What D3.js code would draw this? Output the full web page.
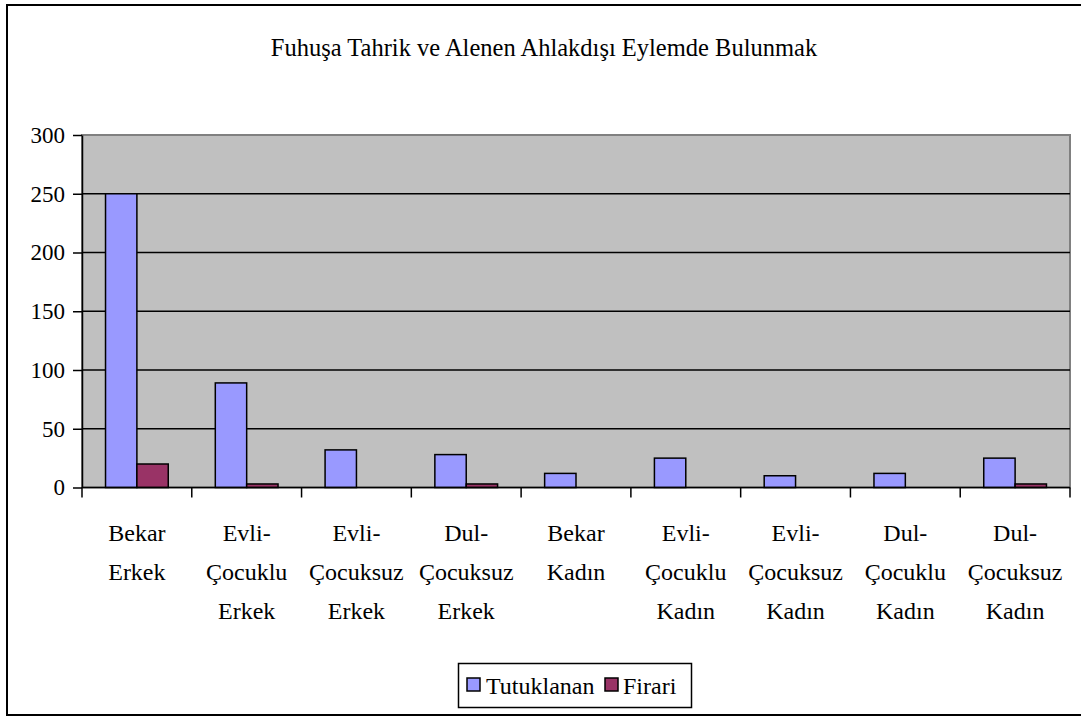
<!DOCTYPE html>
<html>
<head>
<meta charset="utf-8">
<script src="https://cdn.jsdelivr.net/npm/d3@7"></script>
<style>
  html, body { margin: 0; padding: 0; background: #fff; }
  svg { display: block; }
  svg text { font-family: "Liberation Serif", "Times New Roman", Times, "DejaVu Serif", serif !important; }
</style>
</head>
<body>
<svg id="chart" width="1081" height="717"></svg>
<script>
const title = "Fuhuşa Tahrik ve Alenen Ahlakdışı Eylemde Bulunmak";
const categories = [
  ["Bekar", "Erkek"],
  ["Evli-", "Çocuklu", "Erkek"],
  ["Evli-", "Çocuksuz", "Erkek"],
  ["Dul-", "Çocuksuz", "Erkek"],
  ["Bekar", "Kadın"],
  ["Evli-", "Çocuklu", "Kadın"],
  ["Evli-", "Çocuksuz", "Kadın"],
  ["Dul-", "Çocuklu", "Kadın"],
  ["Dul-", "Çocuksuz", "Kadın"]
];
const seriesNames = ["Tutuklanan", "Firari"];
const tutuklanan = [250, 89, 32, 28, 12, 25, 10, 12, 25];
const firari = [20, 3, 0, 3, 0, 0, 0, 0, 3];
const yTicks = [0, 50, 100, 150, 200, 250, 300];
const colors = ["#9999FF", "#993366"];

const FONT = '"Liberation Serif", "Times New Roman", Times, "DejaVu Serif", serif';
const svg = d3.select("#chart");
const plot = { left: 82, right: 1070, top: 135, bottom: 487.5 };

// outer border
svg.append("rect")
  .attr("x", 7).attr("y", 5).attr("width", 1090).attr("height", 710)
  .attr("fill", "#fff").attr("stroke", "#000").attr("stroke-width", 2);

// title
svg.append("text")
  .attr("x", 544).attr("y", 56)
  .attr("text-anchor", "middle")
  .attr("font-family", FONT)
  .attr("font-size", 24.5)
  .text(title);

const catKeys = categories.map((c, i) => i);
const x = d3.scaleBand().domain(catKeys).range([plot.left, plot.right]).padding(0);
const xs = d3.scaleBand().domain(seriesNames).range([0, x.bandwidth()])
  .paddingInner(0).paddingOuter(0.75);
const y = d3.scaleLinear().domain([0, 300]).range([plot.bottom, plot.top]);

// plot background
svg.append("rect")
  .attr("x", plot.left).attr("y", plot.top)
  .attr("width", plot.right - plot.left).attr("height", plot.bottom - plot.top)
  .attr("fill", "#C0C0C0").attr("stroke", "#808080").attr("stroke-width", 2);

// gridlines
svg.append("g").selectAll("line")
  .data(yTicks.filter(t => t > 0 && t < 300))
  .join("line")
  .attr("x1", plot.left).attr("x2", plot.right)
  .attr("y1", d => y(d)).attr("y2", d => y(d))
  .attr("stroke", "#000").attr("stroke-width", 1.5);

// bars
const data = catKeys.map(i => ({ i, values: [tutuklanan[i], firari[i]] }));
const groups = svg.append("g").selectAll("g")
  .data(data).join("g")
  .attr("transform", d => `translate(${x(d.i)},0)`);
groups.selectAll("rect")
  .data(d => d.values.map((v, k) => ({ v, k })).filter(e => e.v > 0))
  .join("rect")
  .attr("x", d => xs(seriesNames[d.k]))
  .attr("y", d => y(d.v))
  .attr("width", xs.bandwidth())
  .attr("height", d => y(0) - y(d.v))
  .attr("fill", d => colors[d.k])
  .attr("stroke", "#000").attr("stroke-width", 1.5);

// y axis
const yAxis = d3.axisLeft(y).tickValues(yTicks).tickSize(9).tickPadding(8).tickSizeOuter(0);
const yg = svg.append("g").attr("transform", `translate(${plot.left},0)`).call(yAxis);
yg.attr("font-family", FONT).attr("font-size", 23);
yg.select(".domain").attr("stroke", "#000").attr("stroke-width", 1.5);
yg.selectAll(".tick line").attr("stroke", "#000").attr("stroke-width", 1.5);
yg.selectAll(".tick text").attr("fill", "#000");

// x axis with ticks at category boundaries
const xg = svg.append("g").attr("transform", `translate(0,${plot.bottom})`);
xg.append("line").attr("x1", plot.left).attr("x2", plot.right)
  .attr("y1", 0).attr("y2", 0).attr("stroke", "#000").attr("stroke-width", 1.5);
const boundaries = catKeys.map(i => x(i)).concat([x(catKeys[catKeys.length - 1]) + x.bandwidth()]);
xg.selectAll("line.tk").data(boundaries).join("line").attr("class", "tk")
  .attr("x1", d => d).attr("x2", d => d).attr("y1", 0).attr("y2", 10)
  .attr("stroke", "#000").attr("stroke-width", 1.5);

// category labels
const lab = svg.append("g").selectAll("text")
  .data(data).join("text")
  .attr("text-anchor", "middle")
  .attr("font-family", FONT)
  .attr("font-size", 24)
  .attr("x", d => x(d.i) + x.bandwidth() / 2)
  .attr("y", 541);
lab.selectAll("tspan")
  .data(d => categories[d.i])
  .join("tspan")
  .attr("x", function () { return d3.select(this.parentNode).attr("x"); })
  .attr("dy", (d, k) => k === 0 ? 0 : 39)
  .text(d => d);

// legend
const lg = svg.append("g");
lg.append("rect").attr("x", 458.5).attr("y", 663.5).attr("width", 233).attr("height", 44)
  .attr("fill", "#fff").attr("stroke", "#000").attr("stroke-width", 1.5);
const legendItems = [
  { name: seriesNames[0], color: colors[0], sx: 467, tx: 486 },
  { name: seriesNames[1], color: colors[1], sx: 605, tx: 623 }
];
lg.selectAll("rect.sw").data(legendItems).join("rect").attr("class", "sw")
  .attr("x", d => d.sx).attr("y", 678).attr("width", 13).attr("height", 13)
  .attr("fill", d => d.color).attr("stroke", "#000").attr("stroke-width", 1.5);
lg.selectAll("text").data(legendItems).join("text")
  .attr("x", d => d.tx).attr("y", 694)
  .attr("font-family", FONT)
  .attr("font-size", 24)
  .text(d => d.name);
</script>
</body>
</html>
